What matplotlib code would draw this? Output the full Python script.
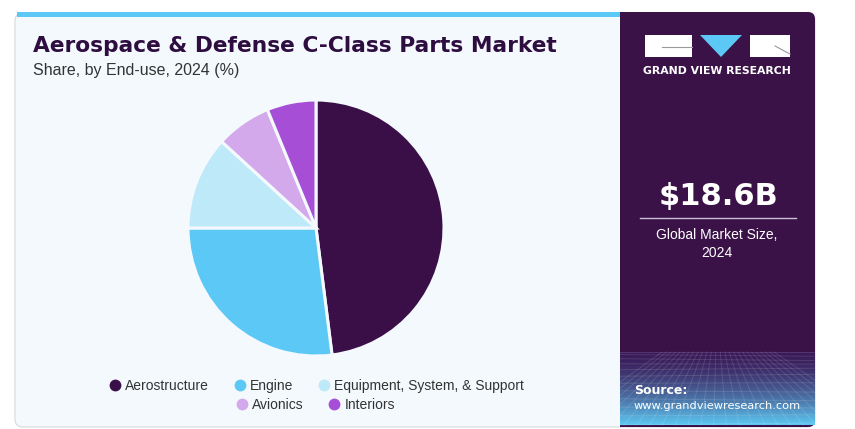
import numpy as np
import matplotlib
matplotlib.use('Agg')
import matplotlib.pyplot as plt
import matplotlib.patches as mpatches
from matplotlib.lines import Line2D

# data
segments = ['Aerostructure', 'Engine', 'Equipment, System, & Support',
            'Avionics', 'Interiors']
shares = [48.0, 27.0, 11.8, 7.0, 6.2]
colors = ['#3a0f47', '#5bc8f5', '#bee9f9', '#d4a9ec', '#a64fd6']

title = 'Aerospace & Defense C-Class Parts Market'
subtitle = 'Share, by End-use, 2024 (%)'
market_size = '$18.6B'
market_label = 'Global Market Size,\n2024'

W, H = 855, 429
PURPLE = '#3a1248'
TITLE_C = '#2e0d40'

fig = plt.figure(figsize=(W / 100, H / 100), dpi=100)
fig.patch.set_facecolor('white')

# background canvas in pixel coordinates
bg = fig.add_axes([0, 0, 1, 1])
bg.set_xlim(0, W)
bg.set_ylim(H, 0)
bg.axis('off')

card = mpatches.FancyBboxPatch((15, 13), 800, 414, boxstyle='round,pad=0,rounding_size=8',
                               facecolor='#f3f9fd', edgecolor='#d6d9de', linewidth=0.8)
bg.add_patch(card)
# blue top strip over the left panel
bg.add_patch(mpatches.Rectangle((17, 12), 603, 4.5, facecolor='#5bc8f5', edgecolor='none'))
# right dark panel
bg.add_patch(mpatches.FancyBboxPatch((620, 12), 195, 415, boxstyle='round,pad=0,rounding_size=7',
                                     facecolor=PURPLE, edgecolor='none'))
bg.add_patch(mpatches.Rectangle((620, 12), 20, 415, facecolor=PURPLE, edgecolor='none'))

# gradient + perspective grid at the bottom of the right panel
grad = np.linspace(0, 1, 100)[:, None]
c0 = np.array([0x3a, 0x1a, 0x58]) / 255
c1 = np.array([0x5c, 0xc8, 0xf2]) / 255
g = grad[..., None] ** 1.5
img = c0[None, None, :] * (1 - g) + c1[None, None, :] * g
img = np.repeat(img, 2, axis=1)
bg.imshow(img, extent=[620, 814, 425, 352], aspect='auto', zorder=2)
for k in range(12):
    y = 352 + 73 * (k / 11) ** 1.4
    bg.plot([620, 814], [y, y + 2 * np.sin(k)], color='white', alpha=0.12, lw=0.7, zorder=3)
for xb in np.linspace(560, 880, 26):
    bg.plot([717 + (xb - 717) * 0.35, xb], [352, 425], color='white', alpha=0.12, lw=0.7, zorder=3)

# logo
bg.add_patch(mpatches.Rectangle((645, 35), 47, 22, facecolor='white', edgecolor='none', zorder=4))
bg.plot([662, 692], [47, 47], color='#9a9a9a', lw=0.8, zorder=5)
bg.add_patch(mpatches.Polygon([(700, 35), (742, 35), (721, 57)], closed=True,
                              facecolor='#5bc8f5', edgecolor='none', zorder=4))
bg.add_patch(mpatches.Rectangle((750, 35), 40, 22, facecolor='white', edgecolor='none', zorder=4))
bg.plot([775, 790], [46, 54], color='#9a9a9a', lw=0.8, zorder=5)
bg.text(717, 71, 'GRAND VIEW RESEARCH', color='white', fontsize=7.8, fontweight='bold',
        ha='center', va='center', family='DejaVu Sans')

# market size block
bg.text(718, 197, market_size, color='white', fontsize=22, fontweight='bold',
        ha='center', va='center', family='DejaVu Sans')
bg.plot([640, 796], [218, 218], color='#c9bfd6', lw=1)
bg.text(717, 244, market_label, color='white', fontsize=10, ha='center', va='center',
        linespacing=1.3, family='Liberation Sans')

bg.text(634, 390, 'Source:', color='white', fontsize=9, fontweight='bold',
        ha='left', va='center', family='DejaVu Sans', zorder=6)
bg.text(634, 406, 'www.grandviewresearch.com', color='white', fontsize=8.2,
        ha='left', va='center', family='DejaVu Sans', zorder=6)

# titles
bg.text(33, 46, title, color=TITLE_C, fontsize=15.7, fontweight='bold',
        ha='left', va='center', family='DejaVu Sans')
bg.text(33, 70, subtitle, color='#333333', fontsize=11.5, ha='left', va='center',
        family='Liberation Sans')

# pie
cx, cy, r = 316, 228, 128
ax = fig.add_axes([(cx - 130) / W, (H - cy - 130) / H, 260 / W, 260 / H])
wedges, _ = ax.pie(shares, colors=colors, startangle=90, counterclock=False, radius=r,
                   wedgeprops=dict(edgecolor='#f3f9fd', linewidth=2.2))
ax.set_xlim(-130, 130)
ax.set_ylim(-130, 130)
ax.set_aspect('equal')
ax.axis('off')

# legend: 3 items on the first row, 2 on the second
def handle(c):
    return Line2D([0], [0], marker='o', linestyle='none', markersize=8.5,
                  markerfacecolor=c, markeredgecolor='none')

leg_kw = dict(frameon=False, handlelength=0.7, handletextpad=0.4, columnspacing=1.85,
              prop={'family': 'Liberation Sans', 'size': 10})
leg1 = fig.legend([handle(c) for c in colors[:3]], segments[:3], ncol=3,
                  loc='center', bbox_to_anchor=(317 / W, 1 - 386 / H), **leg_kw)
leg2 = fig.legend([handle(c) for c in colors[3:]], segments[3:], ncol=2,
                  loc='center', bbox_to_anchor=(316 / W, 1 - 405 / H), **leg_kw)
for leg in (leg1, leg2):
    for t in leg.get_texts():
        t.set_color('#333333')

fig.savefig('out.png', dpi=100)
